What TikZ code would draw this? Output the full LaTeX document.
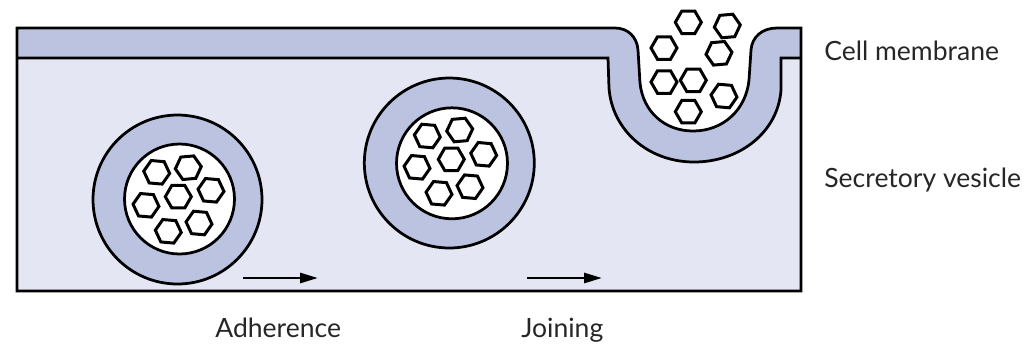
\documentclass[tikz,border=0pt]{standalone}
\usepackage{fontspec}
\setmainfont{Lato}
\usetikzlibrary{shapes.geometric,arrows.meta}
\definecolor{cellfill}{HTML}{E5E6F3}
\definecolor{memfill}{HTML}{BBC3E0}
\tikzset{
  x=0.02cm,y=-0.02cm,
  outline/.style={draw=black,line width=0.055cm,line join=miter},
  hexa/.style={regular polygon,regular polygon sides=6,draw=black,fill=white,line width=0.06cm,
    minimum size=0.52cm,inner sep=0pt,outer sep=0pt},
  lab/.style={font=\fontsize{15.1pt}{17pt}\selectfont,inner sep=0pt,anchor=base west,text=black!85},
  flow/.style={line width=0.055cm,-{Triangle[length=0.36cm,width=0.2cm]}}
}
\begin{document}
\begin{tikzpicture}
\useasboundingbox (0,0) rectangle (1024,343);
% cell interior
\fill[cellfill] (17,58) rectangle (801,291);
% open pocket above the inner membrane wall
\fill[white] (638,28) rectangle (751,60);
% membrane band with its pocket
\fill[memfill] (17,28) -- (615,28) .. controls (628,28) and (637,37) .. (638,50)
  -- (640,83) .. controls (643,112) and (665,131) .. (693,131)
  .. controls (723,131) and (746,110) .. (749,80)
  -- (751,50) .. controls (752,37) and (762,28) .. (777,28)
  -- (801,28) -- (801,58) -- (781,58) -- (781,90)
  .. controls (778,132) and (740,162) .. (694,162)
  .. controls (648,162) and (612,130) .. (609,88)
  -- (608,58) -- (17,58) -- cycle;
% pocket interior
\fill[white] (638,50) -- (640,83) .. controls (643,112) and (665,131) .. (693,131)
  .. controls (723,131) and (746,110) .. (749,80) -- (751,50) -- cycle;
% outlines of the membrane and the cell
\draw[outline] (17,58) -- (17,28) -- (615,28) .. controls (628,28) and (637,37) .. (638,50)
  -- (640,83) .. controls (643,112) and (665,131) .. (693,131)
  .. controls (723,131) and (746,110) .. (749,80)
  -- (751,50) .. controls (752,37) and (762,28) .. (777,28)
  -- (801,28) -- (801,291) -- (17,291) -- cycle;
\draw[outline] (17,58) -- (608,58) -- (609,88)
  .. controls (612,130) and (648,162) .. (694,162)
  .. controls (740,162) and (778,132) .. (781,90)
  -- (781,58) -- (801,58);
% vesicles
\node[circle,draw=black,line width=0.055cm,fill=memfill,minimum size=3.38cm,inner sep=0pt] (ves1o) at (177.5,199.5) {};
\node[circle,draw=black,line width=0.055cm,fill=white,minimum size=2.2cm,inner sep=0pt] (ves1i) at (179.5,199) {};
\node[circle,draw=black,line width=0.055cm,fill=memfill,minimum size=3.4cm,inner sep=0pt] (ves2o) at (449.3,163) {};
\node[circle,draw=black,line width=0.055cm,fill=white,minimum size=2.22cm,inner sep=0pt] (ves2i) at (452,163.3) {};
% contents of the vesicles and of the pocket
\foreach \i/\x/\y/\r in {
  a/156.7/172.3/-5,b/188.3/167.7/5,c/211/190.3/-5,d/178.3/196.7/0,e/146/205.3/-5,f/168.3/231.3/-5,g/199/223/-5,
  h/427.3/136/-5,k/459.7/130/5,l/483.7/154.3/-5,m/451.3/159.3/0,n/417/167.3/-5,o/439/193.3/-5,p/470/186.7/-5,
  q/688.3/22.3/0,r/727.3/26/5,s/664/48/0,t/719/53.3/5,u/664/82/0,v/693.3/80.3/0,w/724/96/-5,z/688.3/111.7/0}
  \node[hexa,rotate=\r] (hex\i) at (\x,\y) {};
% direction of movement
\coordinate (a1s) at (243,278); \coordinate (a1e) at (318,278);
\coordinate (a2s) at (527,278); \coordinate (a2e) at (602,278);
\draw[flow] (a1s) -- (a1e);
\draw[flow] (a2s) -- (a2e);
% labels
\node[lab] (adh) at (215,337) {Adherence};
\node[lab] (joi) at (521,337) {Joining};
\node[lab] (cm) at (824,60) {Cell membrane};
\node[lab] (sv) at (824,187) {Secretory vesicle};
\end{tikzpicture}
\end{document}
